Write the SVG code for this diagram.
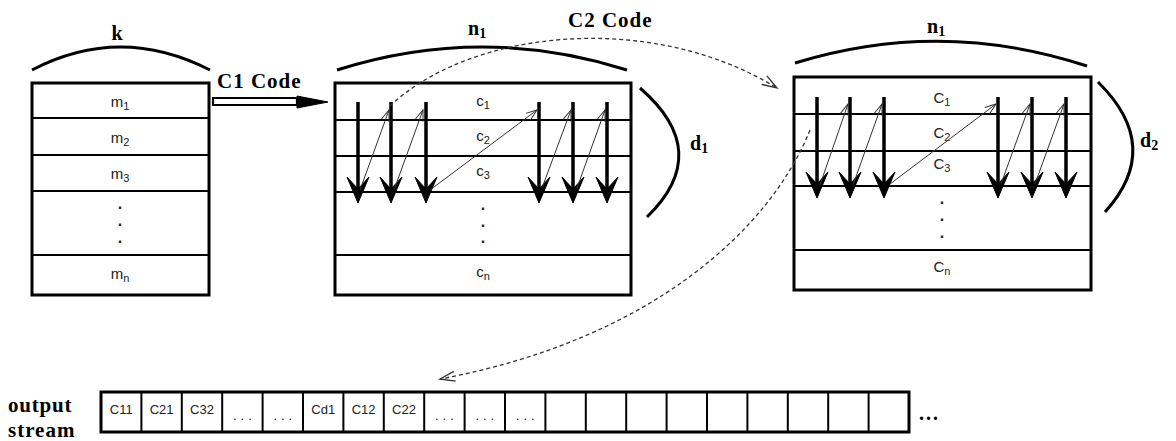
<svg xmlns="http://www.w3.org/2000/svg" xmlns:xlink="http://www.w3.org/1999/xlink" width="1176" height="441" viewBox="0 0 1176 441">
<style>
.box{fill:#fff;stroke:#000;stroke-width:3}
.row{stroke:#000;stroke-width:2}
.arc{fill:none;stroke:#000;stroke-width:3}
.lbl{font-family:"Liberation Serif","Times New Roman",serif;font-weight:bold;fill:#000}
.cell{font-family:"Liberation Sans",Arial,sans-serif;font-size:15px;fill:#222;text-anchor:middle}
.dot{font-family:"Liberation Sans",Arial,sans-serif;font-size:16px;font-weight:bold;fill:#222;text-anchor:middle}
.st{font-family:"Liberation Sans",Arial,sans-serif;font-size:13px;fill:#222;text-anchor:middle}
.thin{stroke:#333;stroke-width:1;fill:none;marker-end:url(#open)}
.dash{stroke:#333;stroke-width:1.3;fill:none;stroke-dasharray:4 3;marker-end:url(#openL)}
</style>
<defs>
<marker id="open" markerUnits="userSpaceOnUse" markerWidth="14" markerHeight="12" viewBox="-12 -6 14 12" refX="0" refY="0" orient="auto">
<path d="M-11,-4 L0,0 L-11,4" fill="none" stroke="#333" stroke-width="1"/>
</marker>
<marker id="openL" markerUnits="userSpaceOnUse" markerWidth="18" markerHeight="14" viewBox="-16 -7 18 14" refX="0" refY="0" orient="auto">
<path d="M-15,-5 L0,0 L-15,5" fill="none" stroke="#333" stroke-width="1.3"/>
</marker>
<g id="down">
<line x1="0" y1="0" x2="0" y2="88" stroke="#000" stroke-width="3.5"/>
<path d="M0,101 L-11,75 L0,87 L11,75 Z" fill="#000" stroke="#000" stroke-width="1"/>
</g>
</defs>
<rect width="1176" height="441" fill="#fff"/>

<g id="message">
<path class="arc" d="M32,70 Q120,24 210,70"/>
<text class="lbl" x="117" y="40" font-size="20" text-anchor="middle">k</text>
<rect class="box" x="32" y="83" width="177" height="212"/>
<line class="row" x1="32" y1="118" x2="209" y2="118"/>
<line class="row" x1="32" y1="155" x2="209" y2="155"/>
<line class="row" x1="32" y1="191" x2="209" y2="191"/>
<line class="row" x1="32" y1="255" x2="209" y2="255"/>
<text class="cell" x="120" y="107">m<tspan font-size="11" dy="3">1</tspan></text>
<text class="cell" x="120" y="143">m<tspan font-size="11" dy="3">2</tspan></text>
<text class="cell" x="120" y="179">m<tspan font-size="11" dy="3">3</tspan></text>
<text class="dot" x="120" y="209">.</text>
<text class="dot" x="120" y="226">.</text>
<text class="dot" x="120" y="243">.</text>
<text class="cell" x="120" y="279">m<tspan font-size="11" dy="3">n</tspan></text>
</g>

<g id="c1code">
<text class="lbl" x="217" y="88" font-size="21" letter-spacing="1">C1 Code</text>
<path d="M213,98 L297,98 L297,105 L213,105 Z" fill="#fff" stroke="#000" stroke-width="2.2"/>
<path d="M297,96 L328,102 L297,108 Z" fill="#000" stroke="#000" stroke-width="1"/>
</g>

<g id="c1matrix">
<path class="arc" d="M337,70 Q482,24 627,70"/>
<text class="lbl" x="468" y="35" font-size="20">n<tspan font-size="14" dy="3">1</tspan></text>
<rect class="box" x="335" y="83" width="296" height="212"/>
<line class="row" x1="335" y1="120" x2="631" y2="120"/>
<line class="row" x1="335" y1="156" x2="631" y2="156"/>
<line class="row" x1="335" y1="192" x2="631" y2="192"/>
<line class="row" x1="335" y1="255" x2="631" y2="255"/>
<text class="cell" x="483" y="106">c<tspan font-size="11" dy="3">1</tspan></text>
<text class="cell" x="483" y="141">c<tspan font-size="11" dy="3">2</tspan></text>
<text class="cell" x="483" y="176">c<tspan font-size="11" dy="3">3</tspan></text>
<text class="dot" x="483" y="210">.</text>
<text class="dot" x="483" y="227">.</text>
<text class="dot" x="483" y="243">.</text>
<text class="cell" x="483" y="277">c<tspan font-size="11" dy="3">n</tspan></text>
<path class="arc" d="M640,88 Q714,152 647,217"/>
<text class="lbl" x="690" y="150" font-size="20">d<tspan font-size="14" dy="3">1</tspan></text>
<use xlink:href="#down" x="358" y="102"/>
<use xlink:href="#down" x="391" y="102"/>
<use xlink:href="#down" x="426" y="102"/>
<use xlink:href="#down" x="539" y="102"/>
<use xlink:href="#down" x="573" y="102"/>
<use xlink:href="#down" x="607" y="102"/>
</g>

<g id="c2matrix">
<path class="arc" d="M795,63 Q941,18 1087,66"/>
<text class="lbl" x="927" y="33" font-size="20">n<tspan font-size="14" dy="3">1</tspan></text>
<rect class="box" x="794" y="77" width="297" height="213"/>
<line class="row" x1="794" y1="114" x2="1091" y2="114"/>
<line class="row" x1="794" y1="151" x2="1091" y2="151"/>
<line class="row" x1="794" y1="186" x2="1091" y2="186"/>
<line class="row" x1="794" y1="250" x2="1091" y2="250"/>
<text class="cell" x="942" y="103">C<tspan font-size="11" dy="3">1</tspan></text>
<text class="cell" x="942" y="138">C<tspan font-size="11" dy="3">2</tspan></text>
<text class="cell" x="942" y="169">C<tspan font-size="11" dy="3">3</tspan></text>
<text class="dot" x="942" y="204">.</text>
<text class="dot" x="942" y="221">.</text>
<text class="dot" x="942" y="238">.</text>
<text class="cell" x="942" y="272">C<tspan font-size="11" dy="3">n</tspan></text>
<path class="arc" d="M1098,82 Q1164,147 1105,212"/>
<text class="lbl" x="1140" y="147" font-size="20">d<tspan font-size="14" dy="3">2</tspan></text>
<use xlink:href="#down" x="817" y="97"/>
<use xlink:href="#down" x="850" y="97"/>
<use xlink:href="#down" x="884" y="97"/>
<use xlink:href="#down" x="998" y="97"/>
<use xlink:href="#down" x="1032" y="97"/>
<use xlink:href="#down" x="1066" y="97"/>
</g>

<g id="stream">
<text class="lbl" x="8" y="412" font-size="21" letter-spacing="0.8">output</text>
<text class="lbl" x="8" y="437" font-size="21" letter-spacing="1">stream</text>
<rect class="box" x="101" y="392" width="808" height="40"/>
<g class="row">
<line x1="141.4" y1="392" x2="141.4" y2="432"/>
<line x1="181.8" y1="392" x2="181.8" y2="432"/>
<line x1="222.2" y1="392" x2="222.2" y2="432"/>
<line x1="262.6" y1="392" x2="262.6" y2="432"/>
<line x1="303" y1="392" x2="303" y2="432"/>
<line x1="343.4" y1="392" x2="343.4" y2="432"/>
<line x1="383.8" y1="392" x2="383.8" y2="432"/>
<line x1="424.2" y1="392" x2="424.2" y2="432"/>
<line x1="464.6" y1="392" x2="464.6" y2="432"/>
<line x1="505" y1="392" x2="505" y2="432"/>
<line x1="545.4" y1="392" x2="545.4" y2="432"/>
<line x1="585.8" y1="392" x2="585.8" y2="432"/>
<line x1="626.2" y1="392" x2="626.2" y2="432"/>
<line x1="666.6" y1="392" x2="666.6" y2="432"/>
<line x1="707" y1="392" x2="707" y2="432"/>
<line x1="747.4" y1="392" x2="747.4" y2="432"/>
<line x1="787.8" y1="392" x2="787.8" y2="432"/>
<line x1="828.2" y1="392" x2="828.2" y2="432"/>
<line x1="868.6" y1="392" x2="868.6" y2="432"/>
</g>
<text class="st" x="121.2" y="414">C11</text>
<text class="st" x="161.6" y="414">C21</text>
<text class="st" x="202" y="414">C32</text>
<text class="st" x="244.4" y="420" letter-spacing="4">...</text>
<text class="st" x="284.8" y="420" letter-spacing="4">...</text>
<text class="st" x="323.2" y="414">Cd1</text>
<text class="st" x="363.6" y="414">C12</text>
<text class="st" x="404" y="414">C22</text>
<text class="st" x="446.4" y="420" letter-spacing="4">...</text>
<text class="st" x="486.8" y="420" letter-spacing="4">...</text>
<text class="st" x="527.2" y="420" letter-spacing="4">...</text>
<text class="lbl" x="919" y="420" font-size="20" letter-spacing="2">...</text>
</g>

<g id="connectors">
<path class="thin" d="M360,190 L389,110"/>
<path class="thin" d="M394,190 L423,110"/>
<path class="thin" d="M430,190 L537,110"/>
<path class="thin" d="M542,188 L571,110"/>
<path class="thin" d="M577,188 L605,110"/>
<path class="thin" d="M820,185 L848,104"/>
<path class="thin" d="M853,185 L882,104"/>
<path class="thin" d="M890,184 L996,104"/>
<path class="thin" d="M1001,184 L1030,104"/>
<path class="thin" d="M1035,184 L1064,104"/>
<path class="dash" d="M390,106 C470,30 650,10 777,88"/>
<path class="dash" d="M810,130 C770,230 650,340 440,379"/>
<text class="lbl" x="568" y="27" font-size="21" letter-spacing="1">C2 Code</text>
</g>
</svg>
